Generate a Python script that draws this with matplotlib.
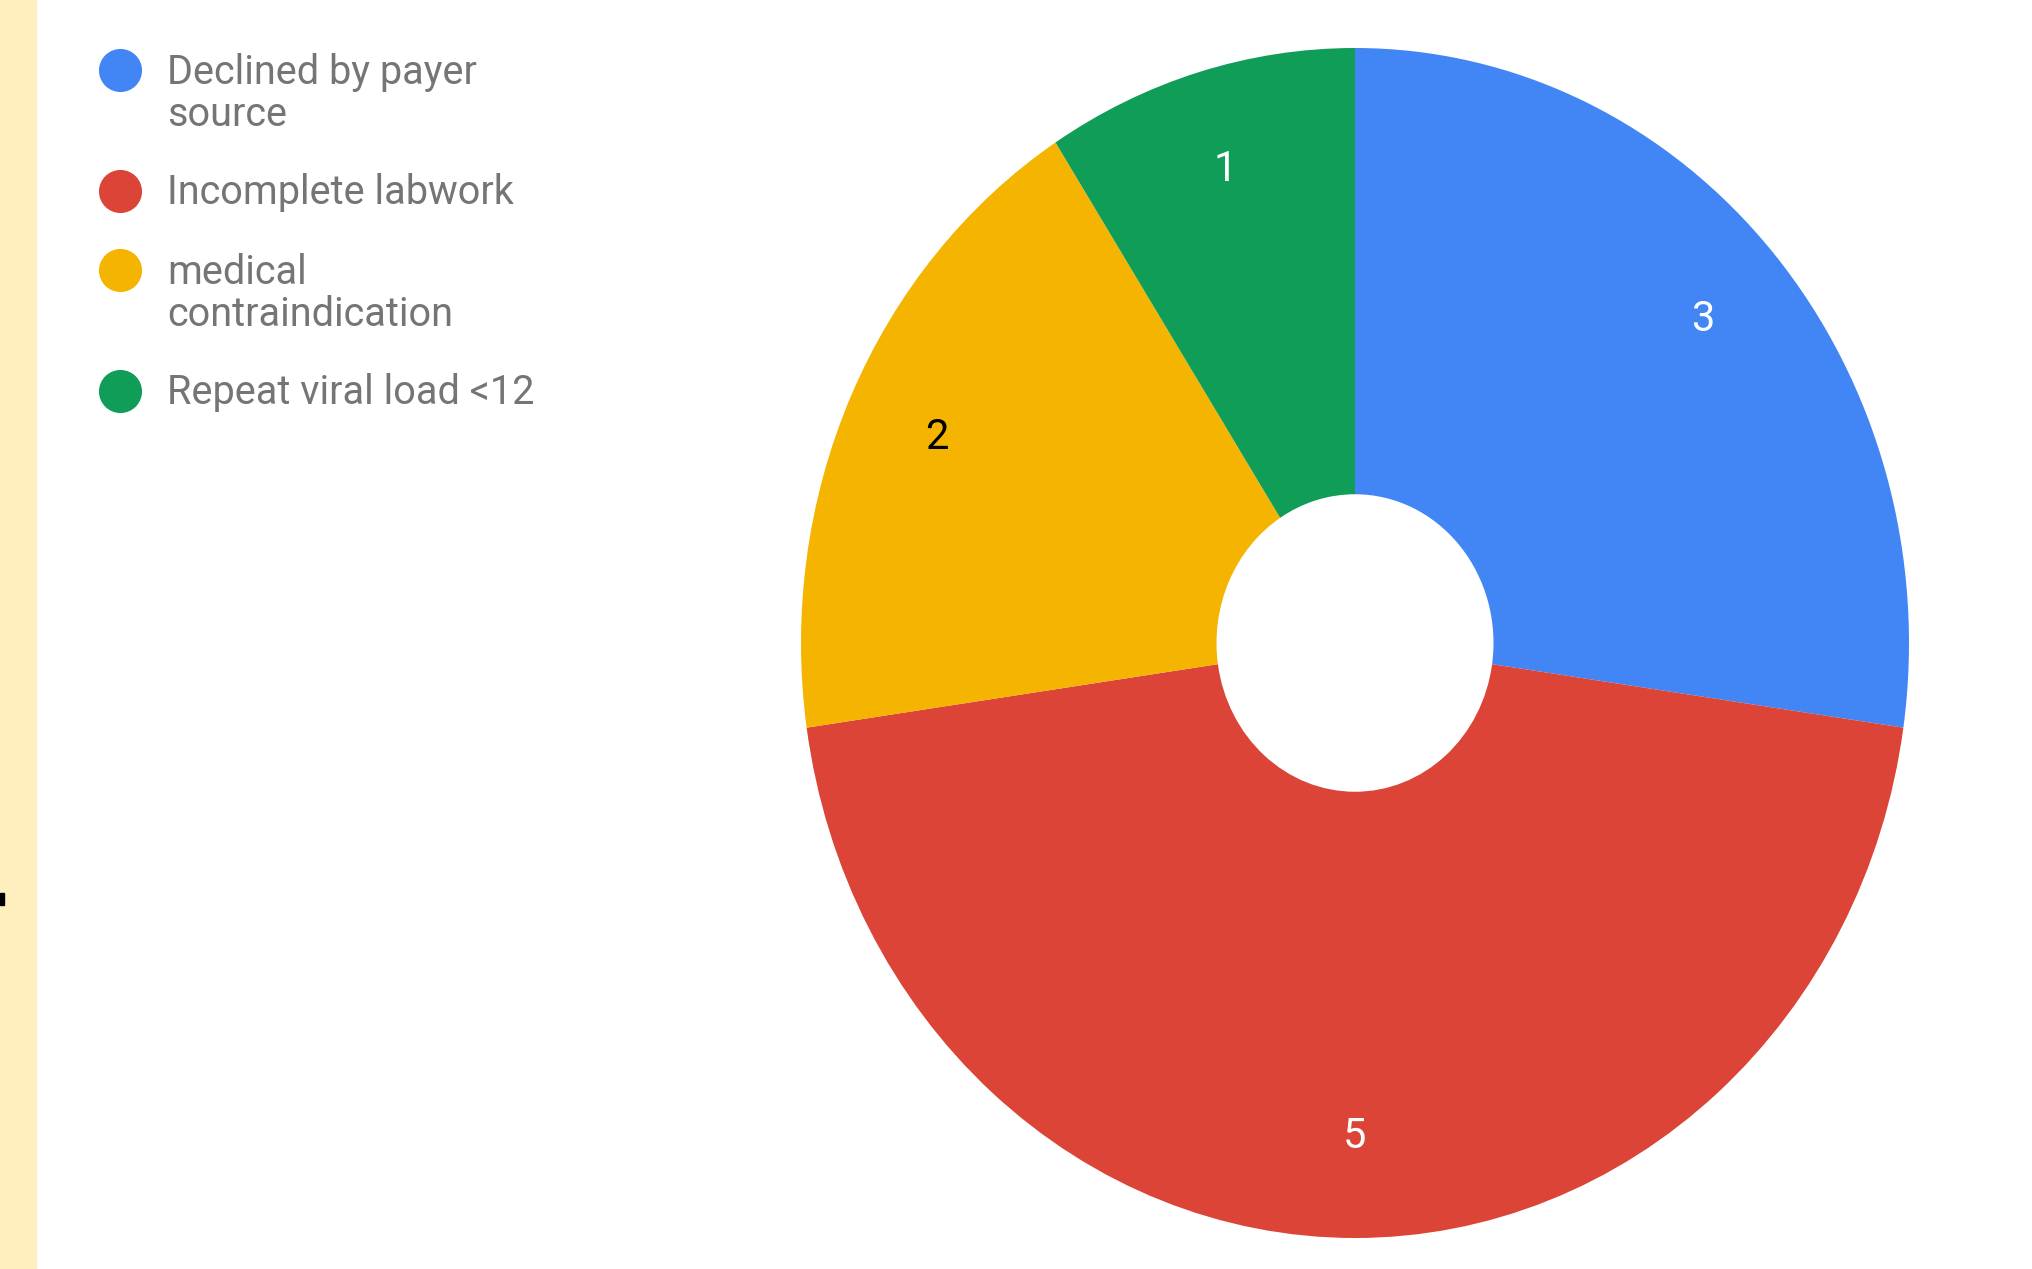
import matplotlib.pyplot as plt
from matplotlib.patches import Rectangle

categories = ['Declined by payer\nsource', 'Incomplete labwork',
              'medical\ncontraindication', 'Repeat viral load <12']
values = [3, 5, 2, 1]
colors = ['#4285F4', '#DB4437', '#F4B400', '#0F9D58']
label_colors = ['white', 'white', 'black', 'white']

W, H = 2033, 1269
fig = plt.figure(figsize=(W / 100, H / 100), dpi=100)
fig.patch.set_facecolor('white')

# yellow strip on the left edge + small black tick
fig.patches.append(Rectangle((0, 0), 36 / W, 1, transform=fig.transFigure,
                             color='#FFEFBF', zorder=0))
fig.patches.append(Rectangle((0, 1 - 905 / H), 4 / W, 12 / H,
                             transform=fig.transFigure, color='black', zorder=1))

# pie (slightly taller than wide, like the original)
cx, cy, rx, ry = 1355, 643, 554, 595
ax = fig.add_axes([(cx - rx) / W, (H - cy - ry) / H, 2 * rx / W, 2 * ry / H])
total = sum(values)
wedges, texts, autotexts = ax.pie(
    values, colors=colors, startangle=90, counterclock=False,
    wedgeprops=dict(width=0.75, linewidth=0),
    autopct=lambda p: f'{round(p * total / 100)}', pctdistance=0.83,
    textprops=dict(fontsize=30, family='Roboto'))
for t, c in zip(autotexts, label_colors):
    t.set_color(c)
ax.set_aspect('auto')
ax.set_xlim(-1, 1)
ax.set_ylim(-1, 1)
ax.axis('off')

# legend drawn by hand so the dot sits on the first line
line_h = 42
y = 70
for name, col in zip(categories, colors):
    lines = name.split('\n')
    fig.add_artist(plt.Line2D([120 / W], [1 - y / H], marker='o', markersize=30,
                              color=col, linestyle='none', transform=fig.transFigure))
    for k, ln in enumerate(lines):
        fig.text(167 / W, 1 - (y + 2 + k * line_h) / H, ln, fontsize=28.5,
                 family='Roboto', color='#757575', va='center', ha='left')
    y += line_h * (len(lines) - 1) + 79

fig.savefig('out.png', dpi=100, facecolor='white')
